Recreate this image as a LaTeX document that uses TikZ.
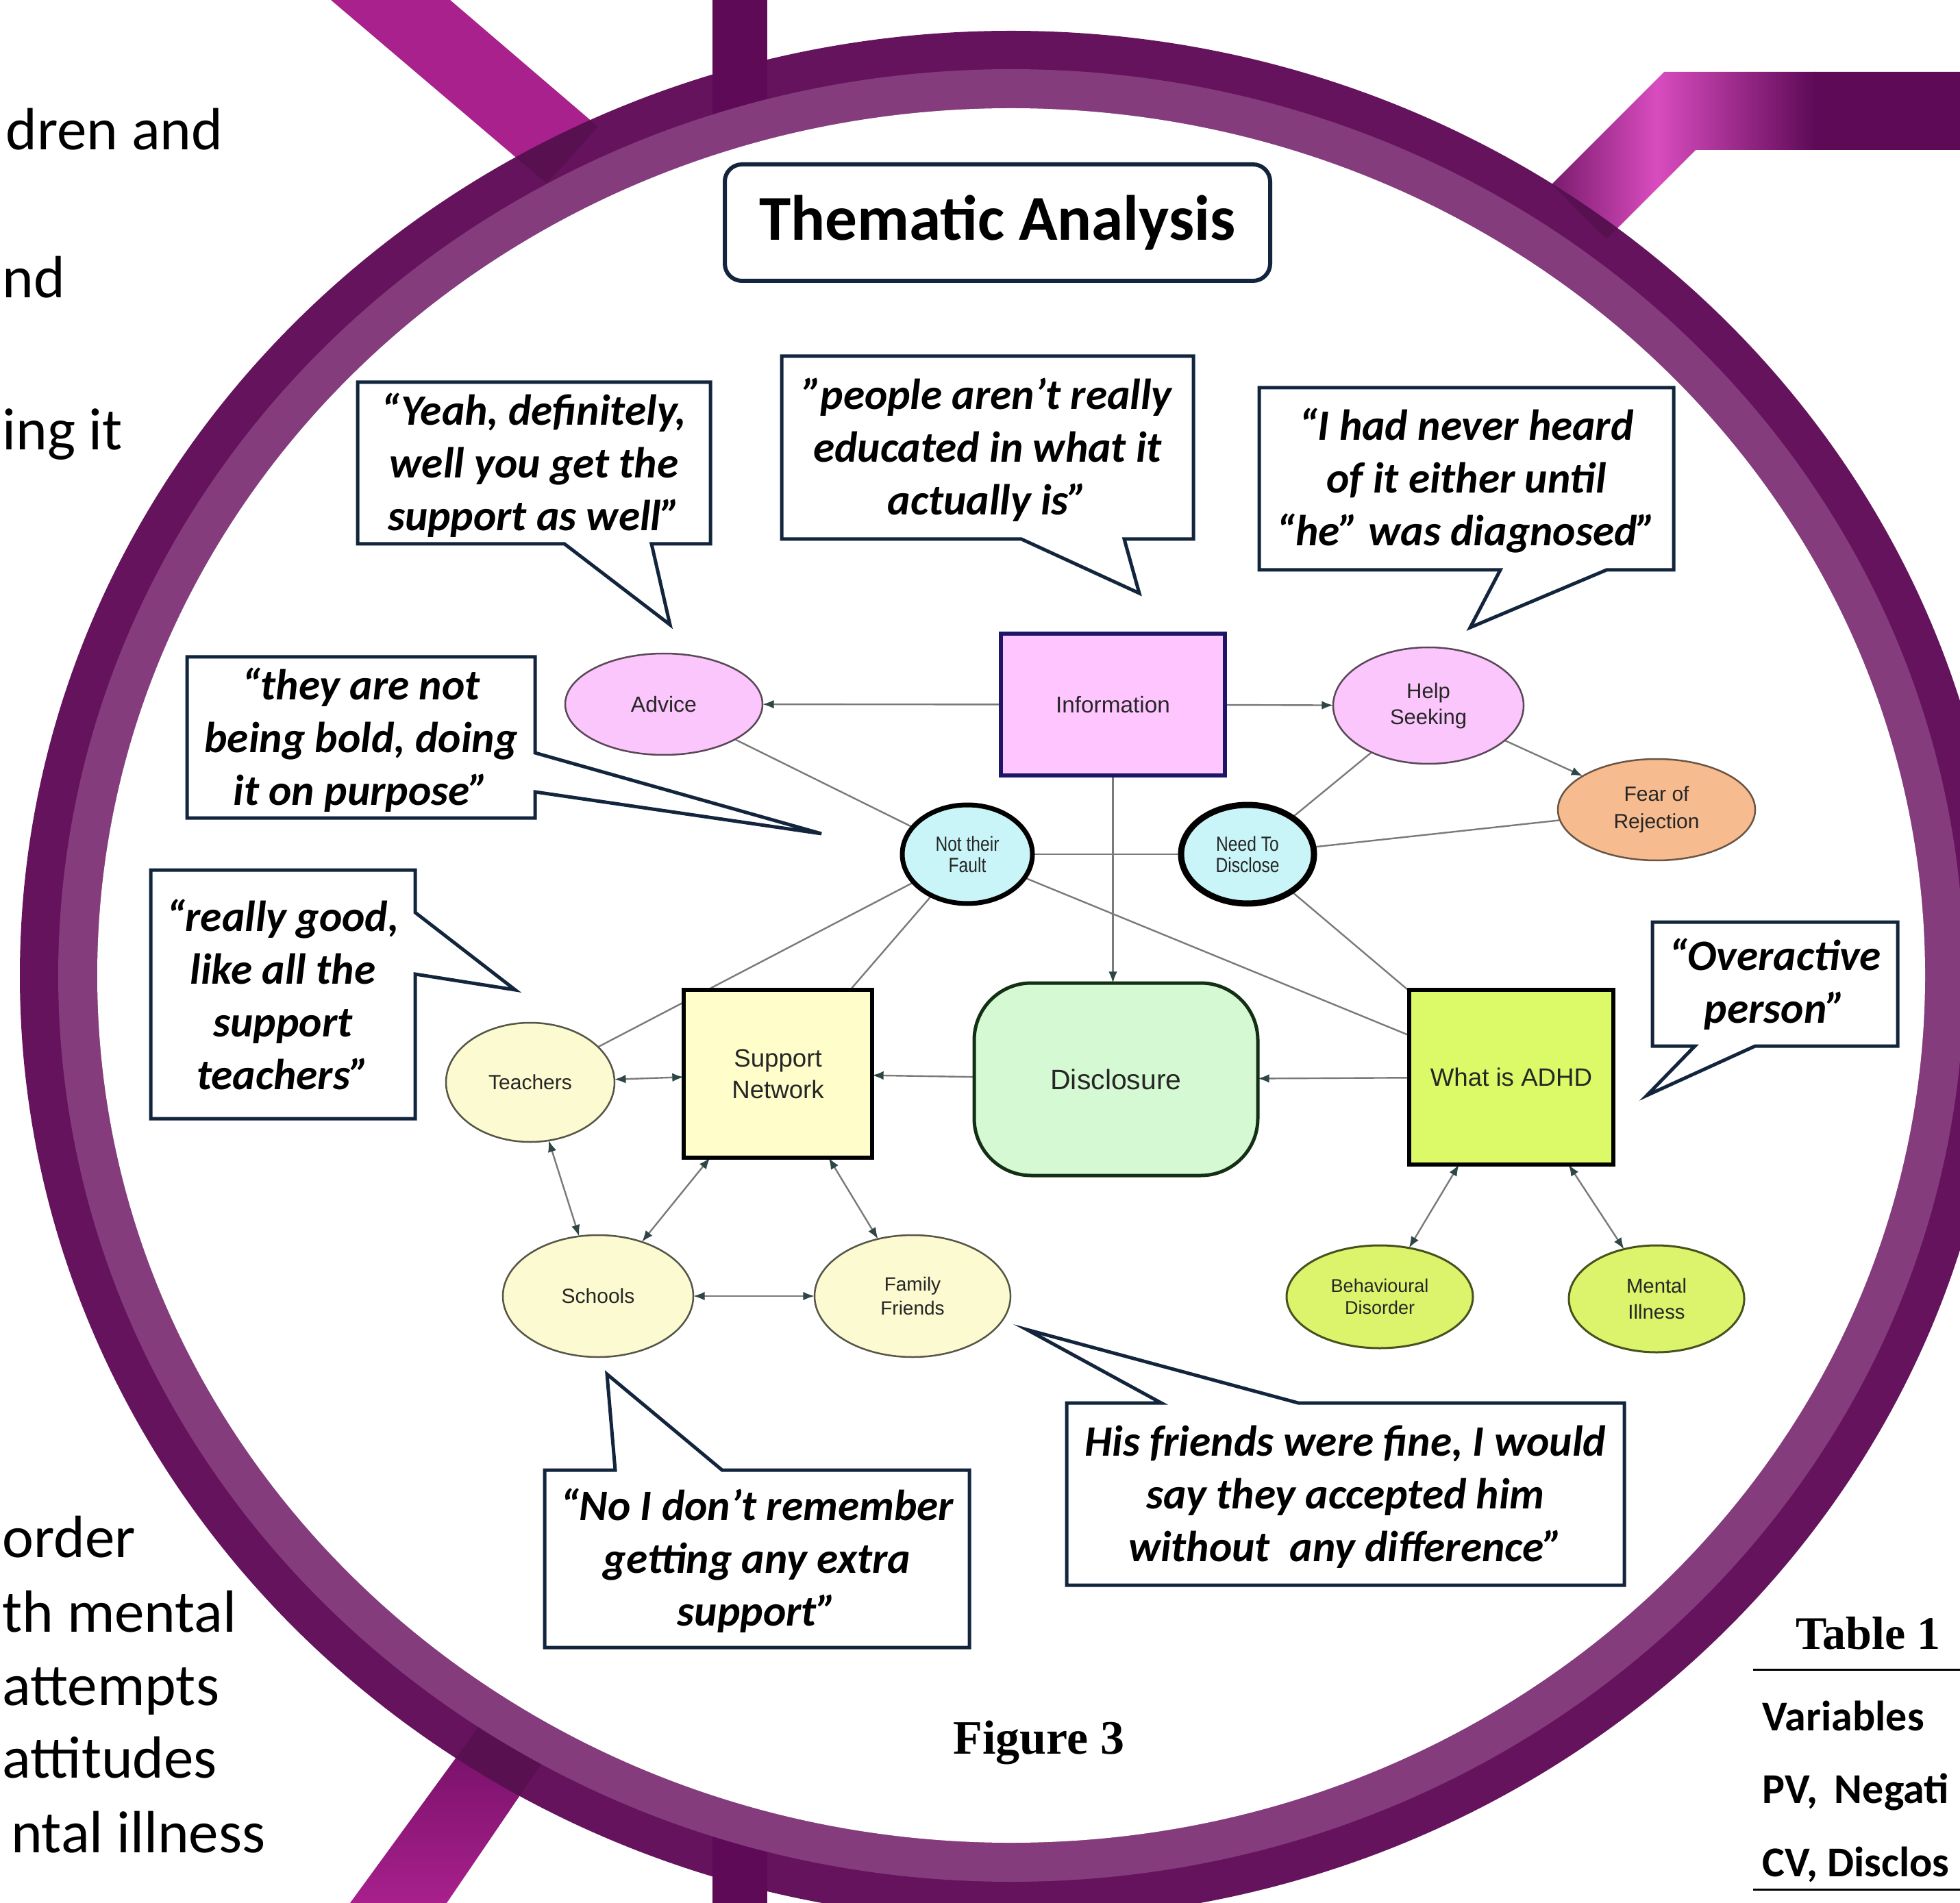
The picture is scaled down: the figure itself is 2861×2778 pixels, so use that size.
\documentclass[tikz,border=0pt]{standalone}
\usepackage{fontspec}
\usetikzlibrary{shapes.geometric,arrows.meta}
\newfontfamily\carl{Carlito}
\newfontfamily\libsans{Liberation Sans}
\newfontfamily\libsansn{Liberation Sans}[FakeStretch=0.82]
\newfontfamily\libserif{Liberation Serif}
\def\pxu{0.3pt}
\definecolor{navyc}{HTML}{13253D}
\definecolor{ringdark}{HTML}{65135D}
\definecolor{ringlight}{HTML}{843C7D}
\definecolor{bandc}{HTML}{5E0A57}
\definecolor{magr}{HTML}{A8218C}
\definecolor{ribA}{HTML}{741868}
\definecolor{ribB}{HTML}{D94CBF}
\definecolor{ribC}{HTML}{5E0A57}
\definecolor{blA}{HTML}{6E0E63}
\definecolor{blB}{HTML}{A8208C}
\definecolor{edgec}{HTML}{7A7A7A}
\definecolor{tipc}{HTML}{2E4646}
\definecolor{txtc}{HTML}{262626}
\definecolor{pinkf}{HTML}{FBC6FB}
\definecolor{pinkd}{HTML}{5A4858}
\definecolor{infof}{HTML}{FFC5FF}
\definecolor{infod}{HTML}{1D1566}
\definecolor{fearf}{HTML}{F7BB90}
\definecolor{feard}{HTML}{6A5545}
\definecolor{cyanf}{HTML}{C9F5F8}
\definecolor{snf}{HTML}{FFFECB}
\definecolor{discf}{HTML}{D5FAD3}
\definecolor{discd}{HTML}{143014}
\definecolor{adhdf}{HTML}{DCF967}
\definecolor{creamf}{HTML}{FCFAD0}
\definecolor{creamd}{HTML}{555548}
\definecolor{limef}{HTML}{DCF36C}
\definecolor{limed}{HTML}{48521E}
\pgfdeclarelayer{back}
\pgfdeclarelayer{edges}
\pgfsetlayers{back,edges,main}
\begin{document}
\begin{tikzpicture}[x=0.3pt,y=-0.3pt,
  quote/.style={font=\carl\bfseries\itshape\fontsize{19pt}{23.1pt}\selectfont, align=center, text=black, inner sep=0pt},
  callout/.style={draw=navyc, line width=5*\pxu, line join=miter, fill=white},
  ell/.style={ellipse, inner sep=0pt, outer sep=0pt, text=txtc, align=center},
  box/.style={rectangle, inner sep=0pt, outer sep=0pt, text=txtc, align=center},
  edge/.style={draw=edgec, line width=2.4*\pxu},
  arr/.style={-{Latex[length=5pt,width=3.8pt,color=tipc]}},
  darr/.style={{Latex[length=5pt,width=3.8pt,color=tipc]}-{Latex[length=5pt,width=3.8pt,color=tipc]}},
  sidetxt/.style={font=\carl\fontsize{26.1pt}{30pt}\selectfont, text=black, inner sep=0pt},
  tabtxt/.style={font=\carl\bfseries\fontsize{18.6pt}{22pt}\selectfont, text=black, inner sep=0pt, anchor=base west}
]
\useasboundingbox (0,0) rectangle (2861,2778);
\begin{pgfonlayer}{back}
\fill[white] (0,0) rectangle (2861,2778);
\begin{scope}
\clip (0,0) rectangle (2861,2778);
% ribbons
\fill[magr] (483,0)--(657,0)--(873,185)--(798,268)--cycle;
\begin{scope}
\clip (2429,105)--(2861,105)--(2861,219)--(2475,219)--(2345,349)--(2265,269)--cycle;
\shade[left color=ribA, right color=ribB] (2255,90) rectangle (2418,360);
\shade[left color=ribB, right color=ribC] (2418,90) rectangle (2650,360);
\fill[ribC] (2649,90) rectangle (2861,360);
\end{scope}
\begin{scope}
\clip (710,2505)--(795,2568)--(652,2778)--(511,2778)--cycle;
\shade[top color=blA, bottom color=blB] (500,2500) rectangle (800,2778);
\end{scope}
% ring
\fill[ringdark] (1476,1424) ellipse [x radius=1447*\pxu, y radius=1379*\pxu];
\begin{scope}
\clip (1476,1424) ellipse [x radius=1447*\pxu, y radius=1379*\pxu];
\fill[black, opacity=0.12] (483,0)--(657,0)--(873,185)--(798,268)--cycle;
\fill[black, opacity=0.12] (2429,105)--(2861,105)--(2861,219)--(2475,219)--(2345,349)--(2265,269)--cycle;
\fill[black, opacity=0.12] (710,2505)--(795,2568)--(652,2778)--(511,2778)--cycle;
\end{scope}
\fill[bandc] (1040,0) rectangle (1120,200);
\fill[bandc] (1040,2600) rectangle (1120,2778);
\fill[ringlight] (1476,1424) ellipse [x radius=1391*\pxu, y radius=1323*\pxu];
\fill[white] (1476,1424) ellipse [x radius=1334*\pxu, y radius=1266*\pxu];
\end{scope}
\end{pgfonlayer}

% side texts
\node[sidetxt, anchor=base east] (s1) at (326,219) {dren and};
\node[sidetxt, anchor=base west] (s2) at (3,435) {nd};
\node[sidetxt, anchor=base west] (s3) at (3,657) {ing it};
\node[sidetxt, anchor=base west] (s4) at (3,2273) {order};
\node[sidetxt, anchor=base west] (s5) at (3,2382) {th mental};
\node[sidetxt, anchor=base west] (s6) at (3,2489) {attempts};
\node[sidetxt, anchor=base west] (s7) at (3,2595) {attitudes};
\node[sidetxt, anchor=base east] (s8) at (388,2704) {ntal illness};

% table
\node[font=\libserif\bfseries\fontsize{20.4pt}{24pt}\selectfont, anchor=base west, inner sep=0pt] (tab) at (2621,2407) {Table 1};
\draw[line width=3*\pxu] (2559,2437) -- (2861,2437);
\node[tabtxt] (tv) at (2572,2526) {Variables};
\node[tabtxt] (tpv) at (2572,2632) {PV,\hspace{0.4em}Negati};
\node[tabtxt] (tcv) at (2572,2739) {CV, Disclos};
\draw[line width=3*\pxu] (2559,2758) -- (2861,2758);

% figure caption
\node[font=\libserif\bfseries\fontsize{21pt}{24pt}\selectfont, anchor=base west, inner sep=0pt] (fig) at (1391,2560) {Figure 3};

% title
\node[draw=navyc, line width=6*\pxu, rounded corners=7.5pt, minimum width=796*\pxu, minimum height=170*\pxu, inner sep=0pt, font=\carl\bfseries\fontsize{28pt}{32pt}\selectfont] (title) at (1456,325) {Thematic Analysis};

% callouts
\draw[callout] (522,558)--(1037,558)--(1037,794)--(951,794)--(978,912)--(824,794)--(522,794)--cycle;
\node[quote] (q1) at (779.5,679) {“Yeah, definitely,\\well you get the\\support as well”};

\draw[callout] (1141,520)--(1742,520)--(1742,787)--(1641,787)--(1663,866)--(1491,787)--(1141,787)--cycle;
\node[quote] (q2) at (1441.5,657) {”people aren’t really\\educated in what it\\actually is”};

\draw[callout] (1838,566)--(2443,566)--(2443,832)--(2345,832)--(2146,916)--(2190,832)--(1838,832)--cycle;
\node[quote] (q3) at (2140.5,702) {“I had never heard\\of it either until\\“he” was diagnosed”};

\draw[callout] (273,959)--(781,959)--(781,1099)--(1199,1217)--(781,1156)--(781,1194)--(273,1194)--cycle;
\node[quote] (q4) at (527,1080) {“they are not\\being bold, doing\\it on purpose”};

\draw[callout] (220,1270)--(606,1270)--(606,1332)--(752,1445)--(606,1422)--(606,1633)--(220,1633)--cycle;
\node[quote] (q5) at (413,1451.5) {“really good,\\like all the\\support\\teachers”};

\draw[callout] (2412,1346)--(2770,1346)--(2770,1527)--(2562,1527)--(2404,1599)--(2474,1527)--(2412,1527)--cycle;
\node[quote] (q6) at (2591,1436.5) {“Overactive\\person”};

\draw[callout] (795,2146)--(898,2146)--(886,2006)--(1054,2146)--(1415,2146)--(1415,2405)--(795,2405)--cycle;
\node[quote] (q7) at (1105,2278) {“No I don’t remember\\getting any extra\\support”};

\draw[callout] (1557,2048)--(1695,2048)--(1499,1941)--(1895,2048)--(2371,2048)--(2371,2314)--(1557,2314)--cycle;
\node[quote] (q8) at (1964,2185) {His friends were fine, I would\\say they accepted him\\without\ \ any difference”};

% concept map nodes
\node[ell, fill=pinkf, draw=pinkd, line width=2.5*\pxu, minimum width=288*\pxu, minimum height=148*\pxu, font=\libsans\fontsize{9.6pt}{11.4pt}\selectfont] (advice) at (969,1028) {Advice};
\node[box, fill=infof, draw=infod, line width=6*\pxu, minimum width=327*\pxu, minimum height=207*\pxu, font=\libsans\fontsize{10pt}{12pt}\selectfont] (info) at (1624.5,1028.5) {Information};
\node[ell, fill=pinkf, draw=pinkd, line width=2.5*\pxu, minimum width=278*\pxu, minimum height=170*\pxu, font=\libsans\fontsize{9.3pt}{11.4pt}\selectfont] (help) at (2085,1030) {Help\\Seeking};
\node[ell, fill=fearf, draw=feard, line width=2.5*\pxu, minimum width=288*\pxu, minimum height=148*\pxu, font=\libsans\fontsize{9pt}{12pt}\selectfont] (fear) at (2418,1182) {Fear of\\Rejection};
\node[ell, fill=cyanf, draw=black, line width=7*\pxu, minimum width=190*\pxu, minimum height=144*\pxu, font=\libsansn\fontsize{9pt}{9.4pt}\selectfont] (ntf) at (1412,1247) {Not their\\Fault};
\node[ell, fill=cyanf, draw=black, line width=9*\pxu, minimum width=194*\pxu, minimum height=144*\pxu, font=\libsansn\fontsize{9pt}{9.4pt}\selectfont] (ntd) at (1821,1247) {Need To\\Disclose};
\node[box, fill=snf, draw=black, line width=6*\pxu, minimum width=275*\pxu, minimum height=245*\pxu, font=\libsans\fontsize{11pt}{13.8pt}\selectfont] (sn) at (1135.5,1567.5) {Support\\Network};
\node[box, fill=discf, draw=discd, line width=5*\pxu, rounded corners=25pt, minimum width=414*\pxu, minimum height=281*\pxu, font=\libsans\fontsize{12.3pt}{14pt}\selectfont] (disc) at (1629,1575.5) {Disclosure};
\node[box, fill=adhdf, draw=black, line width=6*\pxu, minimum width=298*\pxu, minimum height=255*\pxu, font=\libsans\fontsize{11pt}{13pt}\selectfont] (adhd) at (2206,1572.5) {What is ADHD};
\node[ell, fill=creamf, draw=creamd, line width=2.5*\pxu, minimum width=246*\pxu, minimum height=174*\pxu, font=\libsans\fontsize{9pt}{11pt}\selectfont] (teach) at (774,1580) {Teachers};
\node[ell, fill=creamf, draw=creamd, line width=2.5*\pxu, minimum width=278*\pxu, minimum height=178*\pxu, font=\libsans\fontsize{9pt}{11pt}\selectfont] (school) at (873,1892) {Schools};
\node[ell, fill=creamf, draw=creamd, line width=2.5*\pxu, minimum width=286*\pxu, minimum height=178*\pxu, font=\libsans\fontsize{8.4pt}{10.5pt}\selectfont] (family) at (1332,1892) {Family\\Friends};
\node[ell, fill=limef, draw=limed, line width=3*\pxu, minimum width=272*\pxu, minimum height=150*\pxu, font=\libsans\fontsize{8.1pt}{9.6pt}\selectfont] (behav) at (2014,1893) {Behavioural\\Disorder};
\node[ell, fill=limef, draw=limed, line width=3*\pxu, minimum width=256*\pxu, minimum height=156*\pxu, font=\libsans\fontsize{8.8pt}{11.4pt}\selectfont] (mental) at (2418,1896) {Mental\\Illness};

% connectors
\begin{pgfonlayer}{edges}
\draw[edge,arr] (info) -- (advice);
\draw[edge,arr] (info) -- (help);
\draw[edge,arr] (info.south) -- (info.south |- disc.north);
\draw[edge,arr] (help) -- (fear);
\draw[edge] (help) -- (ntd);
\draw[edge] (ntd) -- (fear);
\draw[edge] (advice) -- (ntf);
\draw[edge] (ntf) -- (ntd);
\draw[edge] (ntf) -- (teach);
\draw[edge] (ntf) -- (sn);
\draw[edge] (ntf) -- (adhd);
\draw[edge] (ntd) -- (adhd);
\draw[edge,arr] (adhd) -- (disc);
\draw[edge,arr] (disc) -- (sn);
\draw[edge,darr] (teach) -- (sn);
\draw[edge,darr] (teach) -- (school);
\draw[edge,darr] (sn) -- (school);
\draw[edge,darr] (sn) -- (family);
\draw[edge,darr] (school) -- (family);
\draw[edge,darr] (adhd) -- (behav);
\draw[edge,darr] (adhd) -- (mental);
\end{pgfonlayer}
\end{tikzpicture}
\end{document}
